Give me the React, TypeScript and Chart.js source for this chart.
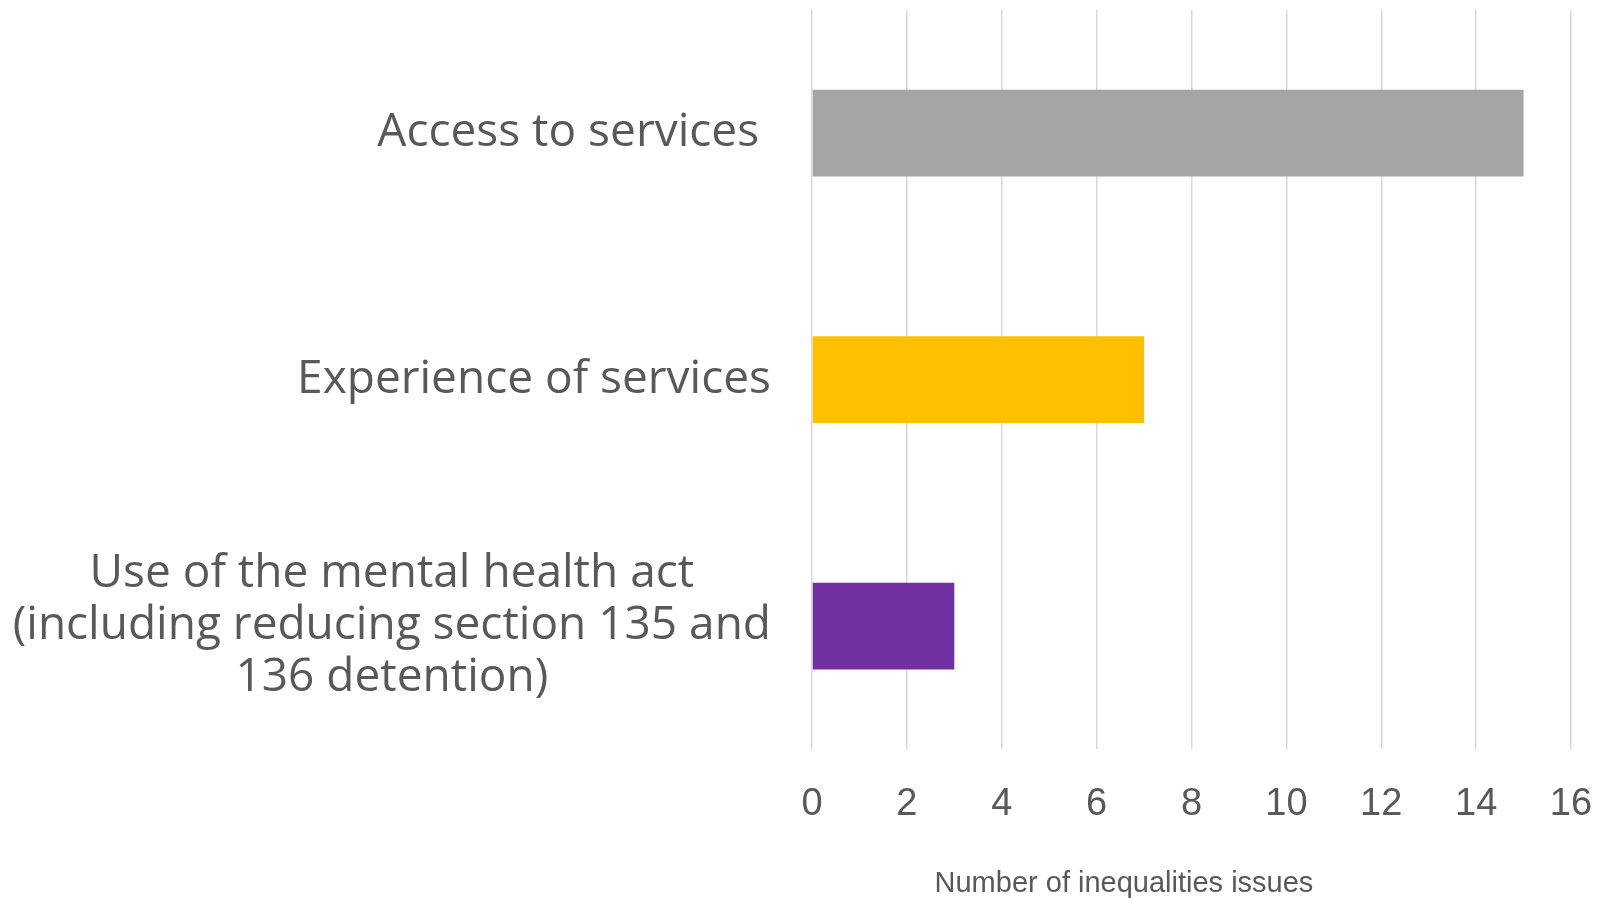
import React, { useEffect, useRef } from "react";
import { Chart, registerables } from "chart.js";

Chart.register(...registerables);

const categoryLines: string[][] = [
  ["Access to services "],
  ["Experience of services"],
  ["Use of the mental health act", "(including reducing section 135 and", "136 detention)"],
];
const issueCounts: number[] = [15, 7, 3];
const barColors: string[] = ["#A5A5A5", "#FFC000", "#7030A0"];
const xMin = 0;
const xMax = 16;
const xStep = 2;
const axisTitle = "Number of inequalities issues";

const TEXT_COLOR = "#595959";
const CAT_FONT = '46px "Open Sans", "DejaVu Sans", sans-serif';
const TICK_FONT_FAMILY = '"Liberation Sans", sans-serif';

const labelPlugin = {
  id: "customLabels",
  afterDraw(chart: any) {
    const ctx = chart.ctx as CanvasRenderingContext2D;
    const yScale = chart.scales.y;
    const area = chart.chartArea;
    ctx.save();
    ctx.fillStyle = TEXT_COLOR;
    ctx.font = CAT_FONT;
    ctx.textBaseline = "middle";
    ctx.textAlign = "center";
    const rightEdge = area.left - 41;
    const lineH = 52;
    categoryLines.forEach((lines, i) => {
      const cy = yScale.getPixelForTick(i);
      const maxW = Math.max(...lines.map((l) => ctx.measureText(l).width));
      const cx = rightEdge - maxW / 2;
      lines.forEach((l, j) => {
        ctx.fillText(l, cx, cy + (j - (lines.length - 1) / 2) * lineH);
      });
    });
    ctx.font = `29px ${TICK_FONT_FAMILY}`;
    ctx.textAlign = "center";
    ctx.fillText(axisTitle, area.left + (area.right - area.left) * 0.411, chart.height - 14);
    ctx.restore();
  },
};

export default function App() {
  const canvasRef = useRef<HTMLCanvasElement | null>(null);

  useEffect(() => {
    document.body.style.margin = "0";
    const canvas = canvasRef.current;
    if (!canvas) return;
    const chart = new Chart(canvas, {
      type: "bar",
      data: {
        labels: categoryLines.map((l) => l.join(" ")),
        datasets: [
          {
            data: issueCounts,
            backgroundColor: barColors,
            borderWidth: 0,
            categoryPercentage: 0.8,
            barPercentage: 0.44,
          },
        ],
      },
      options: {
        indexAxis: "y",
        responsive: false,
        animation: false,
        layout: { padding: { left: 804, right: 26, top: 10, bottom: 39 } },
        plugins: {
          legend: { display: false },
          tooltip: { enabled: false },
        },
        scales: {
          x: {
            min: xMin,
            max: xMax,
            afterFit(scale: any) {
              scale.paddingLeft = 0;
              scale.paddingRight = 0;
            },
            ticks: {
              stepSize: xStep,
              color: TEXT_COLOR,
              font: { size: 38, family: TICK_FONT_FAMILY },
              padding: 32,
            },
            grid: { color: "#D9D9D9", lineWidth: 1.5, drawTicks: false },
            border: { display: false },
          },
          y: {
            ticks: { display: false },
            grid: { display: false },
            border: { display: false },
          },
        },
      },
      plugins: [labelPlugin],
    });
    return () => chart.destroy();
  }, []);

  return (
    <div style={{ width: 1597, height: 898 }}>
      <canvas ref={canvasRef} width={1597} height={898} style={{ display: "block" }} />
    </div>
  );
}
